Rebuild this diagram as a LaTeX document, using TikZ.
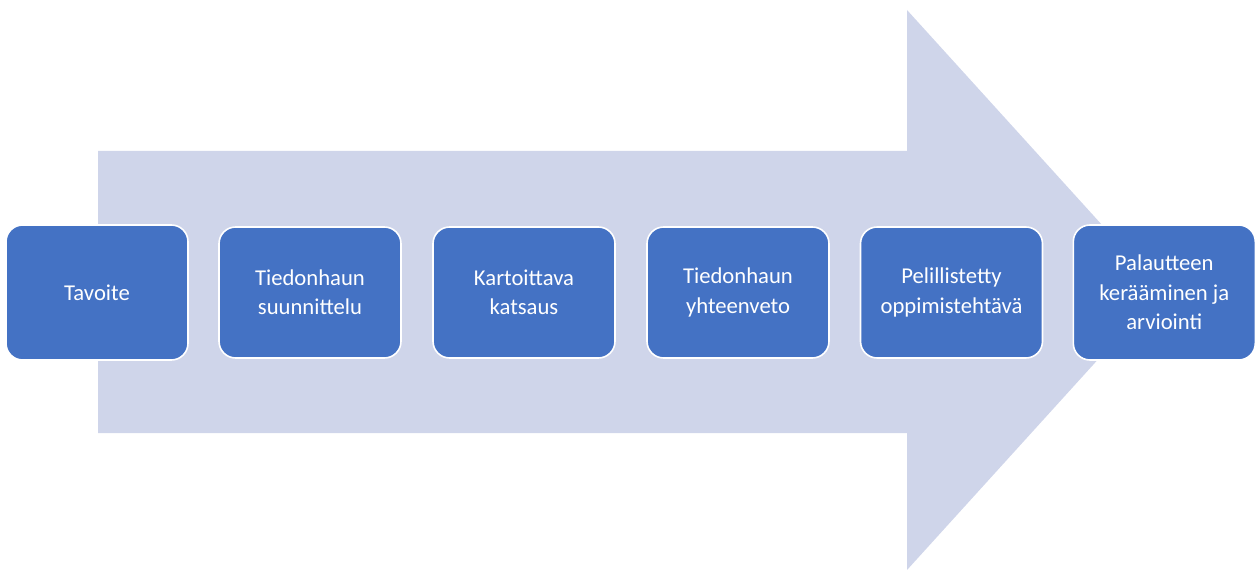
\documentclass[tikz,border=0pt]{standalone}
\usepackage{fontspec}
\setmainfont{Carlito}
\definecolor{arrowfill}{HTML}{CFD5EA}
\definecolor{stepfill}{HTML}{4472C4}
\begin{document}
\begin{tikzpicture}[x=0.75pt,y=-0.75pt,
  stepbox/.style={draw=white,line width=1.2pt,fill=stepfill,rounded corners=12.5pt,
    text=white,align=center,font=\fontsize{17}{22}\selectfont,inner sep=0pt,
    minimum width=136.5pt,minimum height=98.25pt},
  endbox/.style={stepbox,minimum height=101.25pt}]
\useasboundingbox (0,0) rectangle (1256,570);
% big background arrow
\fill[arrowfill] (98,151) -- (907,151) -- (907,10) -- (1161,290) -- (907,570)
  -- (907,433) -- (98,433) -- cycle;
% process steps
\node[endbox]  (s1) at (97,292.5)    {Tavoite};
\node[stepbox] (s2) at (310,292.5)   {Tiedonhaun\\suunnittelu};
\node[stepbox] (s3) at (524,292.5)   {Kartoittava\\katsaus};
\node[stepbox] (s4) at (738,292.5)   {Tiedonhaun\\yhteenveto};
\node[stepbox] (s5) at (951.5,292.5) {Pelillistetty\\oppimistehtävä};
\node[endbox]  (s6) at (1164.3,292.5) {Palautteen\\kerääminen ja\\arviointi};
\end{tikzpicture}
\end{document}
